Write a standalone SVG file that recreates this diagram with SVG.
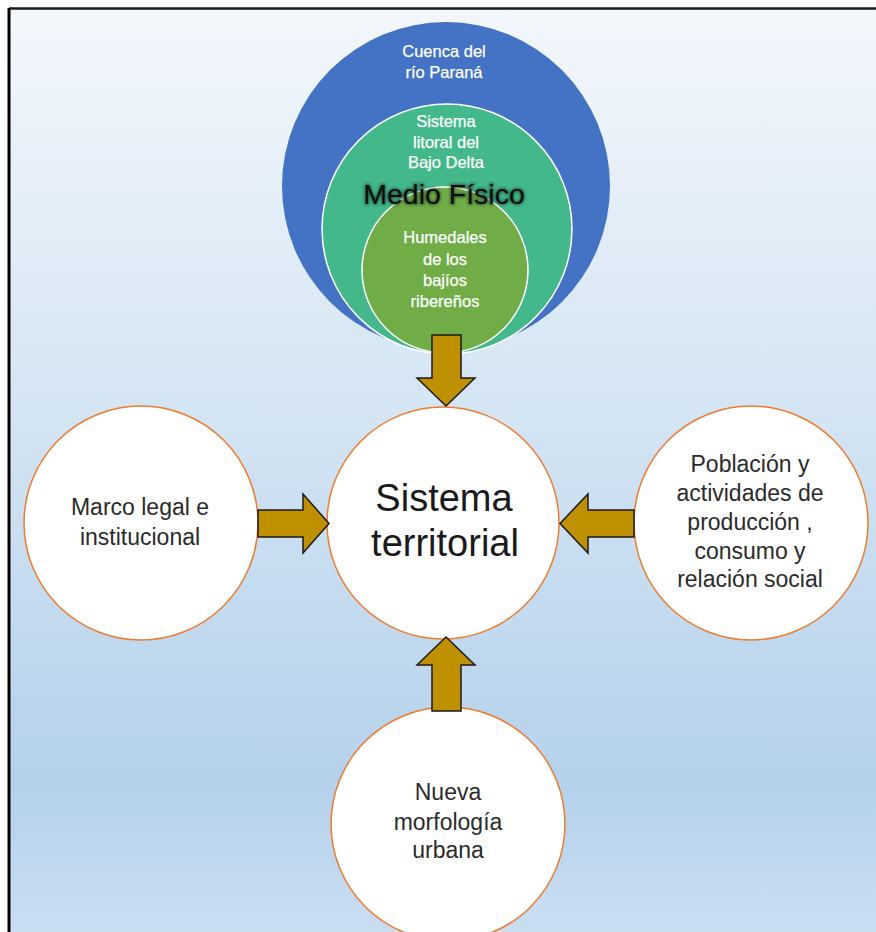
<svg xmlns="http://www.w3.org/2000/svg" width="876" height="932" viewBox="0 0 876 932">
  <defs>
    <linearGradient id="bg" x1="0" y1="9" x2="0" y2="932" gradientUnits="userSpaceOnUse">
      <stop offset="0" stop-color="#F3F7FC"/>
      <stop offset="0.45" stop-color="#D3E4F3"/>
      <stop offset="0.84" stop-color="#B5D1EB"/>
      <stop offset="1" stop-color="#CADEF2"/>
    </linearGradient>
    <filter id="glow" x="-20%" y="-50%" width="140%" height="200%">
      <feGaussianBlur stdDeviation="1.8"/>
    </filter>
    <style>
      .node { fill: #FFFFFF; stroke: #ED7D31; stroke-width: 1.5; }
      .ring { stroke: #FFFFFF; stroke-width: 1.5; }
      .lbl { font-family: "Liberation Sans", Arial, sans-serif; text-anchor: middle; }
      .white { fill: #FFFFFF; font-size: 16.5px; stroke: #FFFFFF; stroke-width: 0.25; }
      .dark { fill: #2B2B2B; font-size: 23px; }
      .arrow { fill: #BF9000; stroke: #1A1A1A; stroke-width: 1.5; stroke-linejoin: miter; }
    </style>
  </defs>

  <!-- page and frame -->
  <rect x="0" y="0" width="876" height="932" fill="#FFFFFF"/>
  <rect x="9" y="9" width="867" height="923" fill="url(#bg)"/>
  <line x1="9" y1="8.5" x2="876" y2="8.5" stroke="#1A1A1A" stroke-width="2.5"/>
  <line x1="9" y1="8" x2="9" y2="932" stroke="#000000" stroke-width="3"/>

  <!-- physical environment: nested circles -->
  <g id="medio-fisico">
    <circle cx="446" cy="186" r="164" fill="#4472C4"/>
    <text class="lbl white" x="444" y="57">Cuenca del</text>
    <text class="lbl white" x="444" y="78">río Paraná</text>
    <circle class="ring" cx="447" cy="229" r="125" fill="#43B98B"/>
    <text class="lbl white" x="446" y="127">Sistema</text>
    <text class="lbl white" x="446" y="148">litoral del</text>
    <text class="lbl white" x="446" y="168">Bajo Delta</text>
    <circle class="ring" cx="445" cy="270" r="83" fill="#70AD47"/>
    <text class="lbl white" x="445" y="243">Humedales</text>
    <text class="lbl white" x="445" y="265">de los</text>
    <text class="lbl white" x="445" y="286">bajíos</text>
    <text class="lbl white" x="445" y="307">ribereños</text>
    <text class="lbl" x="444" y="204" font-size="28.5" fill="#10261A" stroke="#10261A" stroke-width="2" opacity="0.6" filter="url(#glow)">Medio Físico</text>
    <text class="lbl" x="444" y="204" font-size="28.5" fill="#0D0D0D">Medio Físico</text>
  </g>

  <g id="sistema-territorial">
    <circle class="node" cx="443" cy="523" r="116"/>
    <text class="lbl" x="444" y="511" font-size="38" fill="#1A1A1A">Sistema</text>
    <text class="lbl" x="445" y="556" font-size="38" fill="#1A1A1A">territorial</text>
  </g>

  <g id="marco-legal">
    <circle class="node" cx="141" cy="523" r="117"/>
    <text class="lbl dark" x="140" y="515">Marco legal e</text>
    <text class="lbl dark" x="140" y="545">institucional</text>
  </g>

  <g id="poblacion">
    <circle class="node" cx="751" cy="523" r="117"/>
    <text class="lbl dark" x="750" y="472">Población y</text>
    <text class="lbl dark" x="750" y="501">actividades de</text>
    <text class="lbl dark" x="750" y="530">producción ,</text>
    <text class="lbl dark" x="750" y="559">consumo y</text>
    <text class="lbl dark" x="750" y="587">relación social</text>
  </g>

  <g id="morfologia">
    <circle class="node" cx="448" cy="824" r="117"/>
    <text class="lbl dark" x="448" y="800">Nueva</text>
    <text class="lbl dark" x="448" y="830">morfología</text>
    <text class="lbl dark" x="448" y="858">urbana</text>
  </g>

  <!-- block arrows feeding the territorial system -->
  <g id="connectors">
    <polygon class="arrow" points="432,335 461,335 461,378 475,378 446,406 417,378 432,378"/>
    <polygon class="arrow" points="258,510 303,510 303,494 329,523.5 303,553 303,537 258,537"/>
    <polygon class="arrow" points="634,510 588,510 588,494 560,523.5 588,553 588,537 634,537"/>
    <polygon class="arrow" points="432,711 461,711 461,665 475,665 446,637 417,665 432,665"/>
  </g>
</svg>
